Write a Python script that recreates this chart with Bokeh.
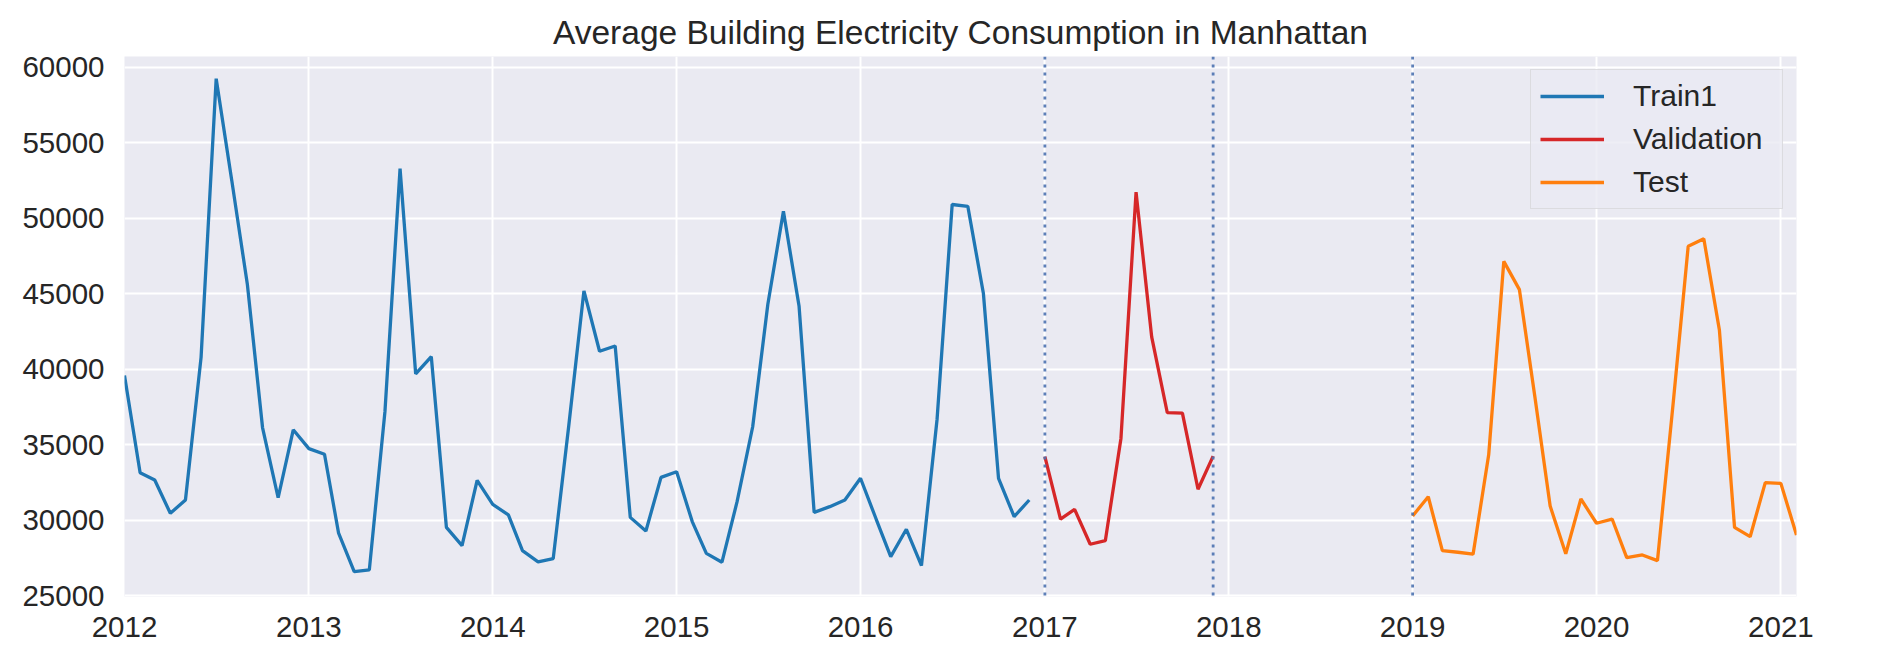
import pandas as pd
from bokeh.plotting import figure
from bokeh.models import Range1d, FixedTicker, DatetimeTickFormatter, Span, NumeralTickFormatter
from bokeh.embed import file_html
from bokeh.resources import INLINE

# ---- data ----
train_start = "2012-01-01"
train_values = [
    39600, 33150, 32670, 30470, 31350, 40800, 59250, 52500, 45600, 36150, 31500, 36000,
    34750, 34380, 29150, 26610, 26720, 37200, 53300, 39700, 40850, 29540, 28330, 32650,
    31060, 30360, 28000, 27250, 27470, 36300, 45200, 41200, 41550, 30200, 29300, 32850,
    33220, 29920, 27820, 27230, 31240, 36200, 44300, 50470, 44200, 30530, 30910, 31350,
    32790, 30090, 27600, 29410, 27010, 36700, 50920, 50800, 45020, 32780, 30250, 31350,
]
val_start = "2017-01-01"
val_values = [34220, 30090, 30730, 28420, 28660, 35430, 51740, 42150, 37130, 37100, 32060, 34260]
test_start = "2019-01-01"
test_values = [
    30290, 31570, 28000, 27890, 27760, 34340, 47150, 45280, 38100, 30950, 27790, 31420,
    29810, 30090, 27540, 27710, 27335, 37700, 48150, 48650, 42590, 29540, 28920, 32500,
    32450, 29030,
]
split_dates = ["2017-01-01", "2017-12-01", "2019-01-01"]
year_ticks = list(range(2012, 2022))
y_ticks = [25000, 30000, 35000, 40000, 45000, 50000, 55000, 60000]
x_limits = ("2012-01-01", "2021-02-01")
y_limits = (24960, 60720)

series = [
    ("Train1", train_start, train_values, "#1f77b4"),
    ("Validation", val_start, val_values, "#d62728"),
    ("Test", test_start, test_values, "#ff7f0e"),
]

FONT = "Liberation Sans"
TXT = "#262626"

p = figure(
    width=1892, height=652,
    x_axis_type="datetime",
    output_backend="svg", toolbar_location=None,
    title="Average Building Electricity Consumption in Manhattan",
    x_range=Range1d(pd.Timestamp(x_limits[0]), pd.Timestamp(x_limits[1])),
    y_range=Range1d(*y_limits),
    min_border_left=124, min_border_right=96, min_border_top=56, min_border_bottom=56,
)
p.background_fill_color = "#eaeaf2"
p.border_fill_color = "white"
p.outline_line_color = None

p.title.text_font = FONT
p.title.text_font_size = "33.5px"
p.title.text_font_style = "normal"
p.title.text_color = TXT
p.title.align = "center"
p.title.standoff = 11

ms = lambda s: pd.Timestamp(s).value // 10**6
p.xaxis.ticker = FixedTicker(ticks=[ms(f"{y}-01-01") for y in year_ticks])
p.xaxis.formatter = DatetimeTickFormatter(years="%Y", months="%Y", days="%Y", hours="%Y")
p.yaxis.ticker = FixedTicker(ticks=y_ticks)
p.yaxis.formatter = NumeralTickFormatter(format="0")

for ax in (p.xaxis[0], p.yaxis[0]):
    ax.axis_line_color = None
    ax.major_tick_line_color = None
    ax.minor_tick_line_color = None
    ax.major_tick_out = 0
    ax.major_tick_in = 0
    ax.major_label_text_font = FONT
    ax.major_label_text_font_size = "29.5px"
    ax.major_label_text_color = TXT
    ax.major_label_standoff = 20

p.xgrid.grid_line_color = "white"
p.ygrid.grid_line_color = "white"
p.xgrid.grid_line_width = 2
p.ygrid.grid_line_width = 2

for name, start, vals, color in series:
    dates = pd.date_range(start, periods=len(vals), freq="MS")
    p.line(dates, vals, line_color=color, line_width=3.3, legend_label=name)

for d in split_dates:
    p.add_layout(Span(location=ms(d), dimension="height", line_color="#4c72b0",
                      line_width=2.8, line_dash="3 5", line_alpha=0.9))

lg = p.legend[0]
lg.location = "top_right"
lg.margin = 13
lg.padding = 9
lg.spacing = 9
lg.glyph_width = 64
lg.glyph_height = 32
lg.label_height = 32
lg.label_width = 140
lg.label_standoff = 29
lg.label_text_font = FONT
lg.label_text_font_size = "30px"
lg.label_text_color = TXT
lg.background_fill_color = "#eaeaf2"
lg.background_fill_alpha = 0.8
lg.border_line_color = "#cccccc"
lg.border_line_width = 1.5

open("out.html", "w").write(file_html(p, INLINE))
